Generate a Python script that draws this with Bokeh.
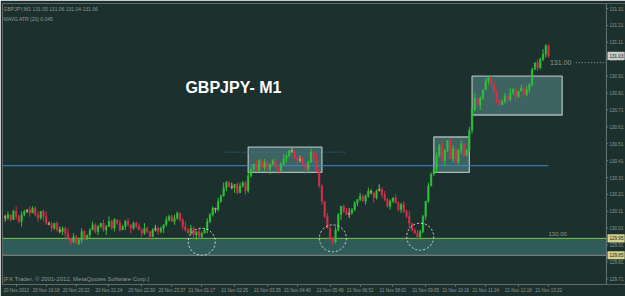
import numpy as np
from bokeh.plotting import figure
from bokeh.models import Range1d, FixedTicker, Label, BoxAnnotation, ColumnDataSource
from bokeh.core.properties import value
from bokeh.embed import file_html
from bokeh.resources import INLINE

# ---------------- data ----------------
first_open = 130.08
closes = [
    130.07, 130.09, 130.06, 130.11, 130.08, 130.05, 130.09, 130.11,
    130.12, 130.10, 130.13, 130.09, 130.07, 130.11, 130.08, 130.04,
    130.03, 130.01, 130.04, 130.00, 129.99, 130.01,
    129.98, 129.95, 129.93, 129.96, 129.92, 129.94, 129.99, 129.95, 129.97,
    130.00, 130.03, 129.99, 130.02, 130.04, 130.00,
    130.02, 130.05, 130.01, 130.06, 130.04, 130.00, 130.02, 130.05, 130.03, 130.01, 130.04, 130.02,
    130.00, 129.98, 130.01, 129.99, 129.96, 130.00, 130.01, 129.99, 130.01,
    130.03, 130.06, 130.08, 130.05, 130.07, 130.10, 130.06, 130.02,
    130.00, 129.98, 130.01, 129.97, 129.99, 129.96, 129.98, 130.00,
    130.05, 130.09, 130.13, 130.12, 130.17, 130.20, 130.25, 130.28, 130.26,
    130.25, 130.27, 130.22, 130.26, 130.28, 130.23,
    130.32, 130.36, 130.39, 130.35, 130.41, 130.37, 130.40, 130.36, 130.39, 130.41,
    130.37, 130.35, 130.39, 130.42, 130.44, 130.47, 130.46, 130.43, 130.41, 130.42,
    130.39, 130.36, 130.40, 130.46, 130.42,
    130.35, 130.26, 130.17, 130.08, 130.01, 129.95, 129.93,
    130.00, 130.09, 130.14, 130.11, 130.09, 130.10,
    130.12, 130.16, 130.18, 130.20, 130.17, 130.20, 130.23, 130.22, 130.19, 130.23, 130.24, 130.21,
    130.18, 130.14, 130.17, 130.19, 130.16, 130.12, 130.15, 130.11,
    130.08, 130.04, 130.00, 129.98, 129.96, 129.99,
    130.08, 130.17, 130.26, 130.33, 130.36,
    130.44, 130.50, 130.41, 130.47, 130.53, 130.42, 130.48, 130.40, 130.47, 130.51, 130.44, 130.47,
    130.59, 130.71, 130.78,
    130.74, 130.78, 130.83, 130.88, 130.90, 130.86, 130.82, 130.77, 130.74, 130.76,
    130.79, 130.77, 130.81, 130.83, 130.79, 130.82, 130.84, 130.80, 130.83, 130.86,
    130.95, 130.99, 130.96, 131.01, 131.04, 131.09, 131.03,
]
hi_wick_pips = [
    1,2,0,1,3,1,2,1,0,2, 1,1,2,0,1,3,1,2,0,1, 2,1,1,3,0,2,1,1,2,1, 0,1,2,1,1,0,2,1,3,1,
    1,0,2,1,1,2,0,1,1,2, 1,3,1,0,1,2,1,1,0,2, 1,1,2,1,0,1,3,1,2,1, 0,2,1,1,2,1,1,0,2,1,
    3,1,1,2,0,1,2,1,1,3, 1,0,2,1,1,2,1,0,1,2, 1,1,3,1,0,2,1,1,2,1, 0,1,2,1,3,1,1,0,2,1,
    1,2,1,0,1,2,3,1,1,0, 2,1,1,2,1,0,1,3,1,2, 1,1,0,2,1,1,2,1,3,0, 1,2,1,1,0,2,1,1,2,1,
    3,1,0,1,2,1,1,2,0,1, 2,1,3,1,1,0,2,1,1,2, 1,0,1,2,1,3,1,1,0,2, 1,2,1,1,0,2,1,3,1,1,
]
lo_wick_pips = [
    2,1,1,0,2,1,3,1,1,2, 0,1,2,1,3,1,0,2,1,1, 1,2,3,1,2,1,0,1,2,1, 1,2,0,1,2,1,1,3,0,1,
    2,1,1,0,2,1,3,1,1,0, 2,1,1,2,0,1,2,1,3,1, 1,0,2,1,1,2,1,0,1,2, 3,1,1,0,2,1,1,2,1,1,
    0,2,1,1,3,1,0,1,2,1, 1,2,0,1,1,2,1,3,1,0, 2,1,1,2,1,0,1,2,1,1, 3,1,0,2,1,1,2,1,0,1,
    2,1,1,3,1,0,2,1,1,2, 1,0,2,1,1,3,1,0,2,1, 1,2,1,0,1,2,1,1,3,1, 0,2,1,1,2,1,0,1,2,1,
    1,3,1,0,2,1,1,2,1,0, 1,2,1,1,3,1,0,2,1,1, 2,1,0,1,2,1,1,3,1,0, 1,1,2,1,0,2,1,1,2,1,
]

price_ticks = [131.31, 131.21, 131.11, 131.01, 130.91, 130.81, 130.71, 130.61, 130.51,
               130.41, 130.31, 130.21, 130.11, 130.01, 129.91, 129.81, 129.71]
time_tick_bars = [4, 15, 26, 38, 50, 61, 72, 84, 96, 107, 119, 130, 142, 154, 165, 176, 188, 199]
time_labels = ["20 Nov 2012", "20 Nov 19:18", "20 Nov 20:22", "20 Nov 21:24", "20 Nov 22:30",
               "20 Nov 23:37", "21 Nov 01:17", "21 Nov 02:25", "21 Nov 03:35", "21 Nov 04:40",
               "21 Nov 05:49", "21 Nov 06:52", "21 Nov 08:01", "21 Nov 09:05", "21 Nov 10:16",
               "21 Nov 11:24", "21 Nov 12:18", "21 Nov 13:22"]

level_green = 129.95
level_gray = 129.85
level_blue = 130.38
level_dotted = 130.46
level_131 = 130.99

box_left = [89, 157, 171]
box_right = [116, 170, 204]
box_bottom = [130.34, 130.34, 130.68]
box_top = [130.49, 130.55, 130.91]

circle_bars = [72, 120, 152]
circle_prices = [129.93, 129.95, 129.96]

# ---------------- derived OHLC ----------------
c = np.array(closes)
o = np.concatenate([[first_open], c[:-1]])
hi = np.maximum(o, c) + np.array(hi_wick_pips) * 0.01
lo = np.minimum(o, c) - np.array(lo_wick_pips) * 0.01
idx = np.arange(len(c))
UP, DN, DJ = "#2ec23a", "#d8304a", "#c9a06a"
cols = [DJ if abs(cc - oo) < 0.011 else (UP if cc > oo else DN) for oo, cc in zip(o, c)]
src = ColumnDataSource(dict(x=idx, o=o, c=c, hi=hi, lo=lo, col=cols,
                            top=np.maximum(o, c), bot=np.minimum(o, c)))

BG = "#1c302d"
GRAY = "#8c9896"
LINE = "#6c7775"

X0, X1 = -1, 227.2          # whole width, the price scale is drawn inside
AXIS_X = 220.2              # position of the price scale line
Y0, Y1 = 129.677, 131.34

p = figure(width=625, height=296, output_backend="svg", toolbar_location=None,
           x_range=Range1d(X0, X1), y_range=Range1d(Y0, Y1),
           y_axis_location=None, x_axis_location="below",
           min_border_left=2, min_border_right=0, min_border_top=3, min_border_bottom=12,
           background_fill_color=BG, border_fill_color=BG)
p.grid.visible = False
p.outline_line_color = None

# time axis
xa = p.xaxis[0]
xa.ticker = FixedTicker(ticks=time_tick_bars)
xa.major_label_overrides = {b: t for b, t in zip(time_tick_bars, time_labels)}
xa.axis_line_color = None
xa.major_tick_line_color = LINE
xa.major_tick_out = 2
xa.major_tick_in = 0
xa.minor_tick_out = 0
xa.minor_tick_in = 0
xa.major_label_standoff = 1
xa.major_label_text_font = "Liberation Sans"
xa.major_label_text_color = GRAY
xa.major_label_text_font_size = "4.5px"

# chart frame + price scale
p.segment(x0=[X0, X0, X0, AXIS_X], x1=[AXIS_X, AXIS_X, X0, AXIS_X],
          y0=[Y1, Y0, Y0, Y0], y1=[Y1, Y0, Y1, Y1], line_color=LINE, line_width=1)
p.segment(x0=[AXIS_X] * len(price_ticks), x1=[AXIS_X + 0.7] * len(price_ticks),
          y0=price_ticks, y1=price_ticks, line_color=LINE, line_width=1)
p.text(x=[AXIS_X + 1.1] * len(price_ticks), y=price_ticks, text=[f"{t:.2f}" for t in price_ticks],
       text_font=value("Liberation Sans"), text_font_size="4.6px", text_color=GRAY,
       text_baseline="middle", text_align="left")

# band between green and gray lines
p.add_layout(BoxAnnotation(bottom=level_gray, top=level_green, right=AXIS_X, fill_color="#2f5b59",
                           fill_alpha=1.0, line_alpha=0, level="underlay"))
p.segment(x0=[X0, X0], x1=[AXIS_X, AXIS_X], y0=[level_green, level_gray], y1=[level_green, level_gray],
          line_color=["#7cc243", "#8a8f8c"], line_width=1)

# rectangles
p.quad(left=box_left, right=box_right, bottom=box_bottom, top=box_top,
       fill_color="#467270", fill_alpha=0.8, line_color="#aab8b7", line_width=1.3)

# horizontal lines
p.segment(x0=[X0], x1=[199], y0=[level_blue], y1=[level_blue], line_color="#3f86d0", line_width=1)
p.segment(x0=[80], x1=[125], y0=[level_dotted], y1=[level_dotted], line_color="#3b7cc0",
          line_width=1, line_dash="1 2")
p.segment(x0=[209], x1=[AXIS_X], y0=[level_131], y1=[level_131], line_color="#a0a890",
          line_width=1, line_dash="1 2")

# candles
p.segment(x0="x", x1="x", y0="lo", y1="hi", color="col", line_width=1, source=src)
p.vbar(x="x", width=0.55, top="top", bottom="bot", fill_color="col", line_color="col",
       line_width=0.5, source=src)

# circles
p.scatter(circle_bars, circle_prices, marker="circle", size=27, fill_alpha=0,
          line_color="#d6dcdc", line_width=1, line_dash="2 2")

# highlighted prices on the scale
hl_vals = [closes[-1], level_green, level_gray]
hl_cols = ["#c9cccb", "#d2d28e", "#d2d28e"]
p.quad(left=[AXIS_X + 0.4] * 3, right=[X1 - 0.3] * 3,
       bottom=[v - 0.024 for v in hl_vals], top=[v + 0.024 for v in hl_vals],
       fill_color=hl_cols, line_color=None)
p.text(x=[AXIS_X + 1.1] * 3, y=hl_vals, text=[f"{v:.2f}" for v in hl_vals],
       text_font=value("Liberation Sans"), text_font_size="4.6px", text_color="#1a1a1a",
       text_baseline="middle", text_align="left")

# texts
p.add_layout(Label(x=-0.6, y=Y1, y_offset=-2, text="GBPJPY,M1  131.05 131.06 131.04 131.06",
                   text_font="Liberation Sans", text_font_size="5px", text_color=GRAY,
                   text_baseline="top"))
p.add_layout(Label(x=-0.6, y=Y1, y_offset=-12, text="MAVG ATR (20)   0.045",
                   text_font="Liberation Sans", text_font_size="5px", text_color=GRAY,
                   text_baseline="top"))
p.add_layout(Label(x=-0.6, y=Y0, y_offset=3,
                   text="[FX Trader, \u00a9 2001-2012, MetaQuotes Software Corp.]",
                   text_font="Liberation Sans", text_font_size="6px", text_color=GRAY,
                   text_baseline="bottom"))
p.add_layout(Label(x=66.0, y=130.845, text="GBPJPY- M1", text_font="Liberation Sans",
                   text_font_size="16px", text_font_style="bold", text_color="#ffffff",
                   text_baseline="alphabetic"))
p.add_layout(Label(x=199, y=level_green, y_offset=2, text="130.00", text_font="Liberation Sans",
                   text_font_size="6px", text_color=GRAY, text_baseline="bottom"))
p.add_layout(Label(x=199.5, y=level_131, text="131.00", text_font="Liberation Sans",
                   text_font_size="7px", text_color=GRAY, text_baseline="middle"))

open("out.html", "w").write(file_html(p, INLINE))
